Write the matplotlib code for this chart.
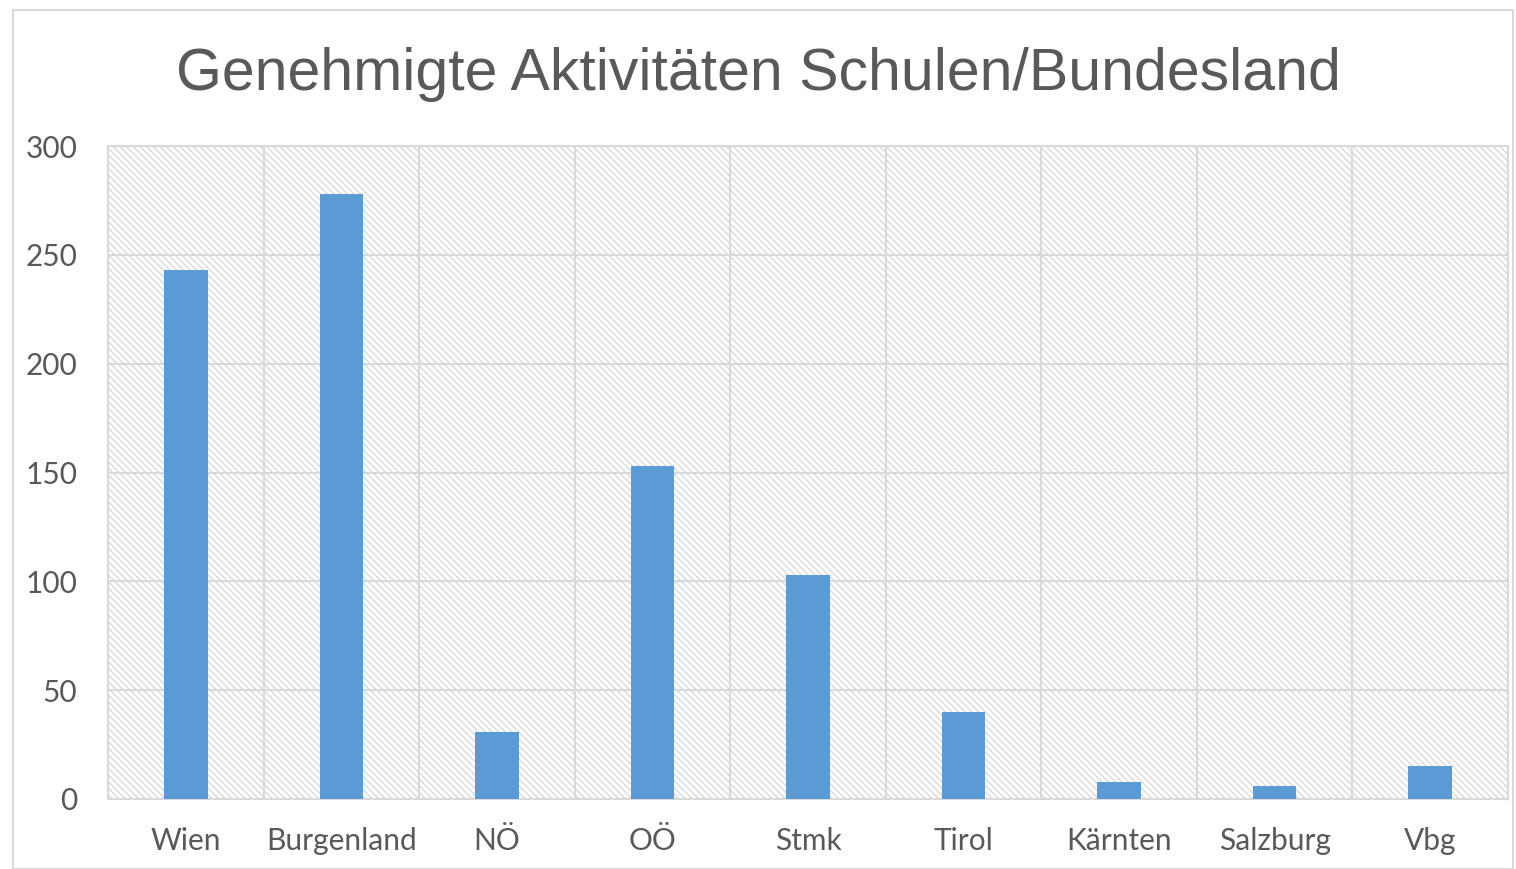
import matplotlib
matplotlib.use('Agg')
import matplotlib.pyplot as plt
from matplotlib.patches import Rectangle

laender = ['Wien', 'Burgenland', 'NÖ', 'OÖ', 'Stmk', 'Tirol', 'Kärnten', 'Salzburg', 'Vbg']
aktivitaeten = [243, 278, 31, 153, 103, 40, 8, 6, 15]
y_ticks = [0, 50, 100, 150, 200, 250, 300]

plt.rcParams['hatch.color'] = '#d9d9d9'
plt.rcParams['hatch.linewidth'] = 1.0

fig = plt.figure(figsize=(15.16, 8.69), dpi=100)
# outer chart frame
fig.patches.append(Rectangle((13 / 1516, 0.0), 1500 / 1516, 1 - 10 / 869, transform=fig.transFigure,
                             fill=False, edgecolor='#d9d9d9', linewidth=1.5))

ax = fig.add_axes([108 / 1516, 1 - 799 / 869, 1400 / 1516, 653 / 869])
ax.add_patch(Rectangle((0, 0), 1, 1, transform=ax.transAxes, facecolor='white',
                       hatch='\\\\\\\\\\', edgecolor='#d9d9d9', linewidth=0, zorder=0))

x = range(len(laender))
ax.bar(x, aktivitaeten, width=0.28, color='#5b9bd5', zorder=3)

ax.set_xlim(-0.5, len(laender) - 0.5)
ax.set_ylim(0, 300)
ax.set_yticks(y_ticks)
ax.set_xticks(list(x))
ax.set_xticklabels(laender)
ax.set_xticks([i + 0.5 for i in range(-1, len(laender))], minor=True)

ax.grid(axis='y', which='major', color='#d9d9d9', linewidth=1.5, zorder=1)
ax.grid(axis='x', which='minor', color='#d9d9d9', linewidth=1.5, zorder=1)
ax.set_axisbelow(True)
ax.tick_params(which='both', length=0)
ax.tick_params(axis='x', pad=20)
ax.tick_params(axis='y', pad=22)
for lab in ax.get_xticklabels() + ax.get_yticklabels():
    lab.set_fontfamily('Lato')
    lab.set_fontsize(21.5)
    lab.set_color('#595959')
for s in ax.spines.values():
    s.set_color('#d9d9d9')
    s.set_linewidth(1.5)

fig.text(0.5, 1 - 75 / 869, 'Genehmigte Aktivitäten Schulen/Bundesland', ha='center', va='center',
         fontsize=42.5, color='#595959', family='Liberation Sans')

fig.savefig('out.png', dpi=100)
